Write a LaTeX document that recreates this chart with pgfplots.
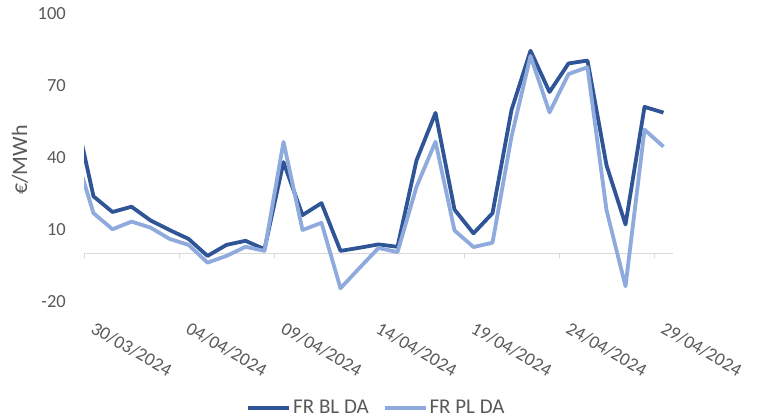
\documentclass[border=0pt]{standalone}
\usepackage{pgfplots}
\pgfplotsset{compat=1.18}
\usepackage{pgfplotstable}
\usepackage{fontspec}
\setmainfont{Carlito}
\definecolor{darkblue}{HTML}{2F5597}
\definecolor{lightblue}{HTML}{8FAADC}
\definecolor{txtgray}{HTML}{595959}
\definecolor{axgray}{HTML}{D9D9D9}

% x = days since 30/03/2024, points placed mid-day (+0.5)
\pgfplotstableread{
x     bl     pl
-0.5  60     43
0.5   24     17
1.5   17.5   10.3
2.5   19.7   13.5
3.5   14     11
4.5   10     6.3
5.5   6.3    3.8
6.5   -0.8   -3.6
7.5   3.8    -0.8
8.5   5.5    3
9.5   2      1.3
10.5  38.3   46.7
11.5  16.2   10
12.5  21.2   13
13.5  1.3    -14.3
14.5  2.6    -5.8
15.5  4      2.5
16.5  3      0.8
17.5  39     28
18.5  58.8   46.8
19.5  18.5   9.8
20.5  8.6    2.9
21.5  17     4.7
22.5  60     48.9
23.5  84.7   82.5
24.5  67.5   59
25.5  79.4   75
26.5  80.6   77.8
27.5  37     18.3
28.5  12.3   -13.5
29.5  61.3   51.8
30.5  58.9   44.7
}\datatable

\begin{document}
\begin{tikzpicture}
\useasboundingbox (0bp,0bp) rectangle (757bp,420bp);
\begin{axis}[
  at={(84bp,118bp)}, anchor=south west,
  width=589bp, height=288bp, scale only axis,
  xmin=0, xmax=31, ymin=-20, ymax=100,
  axis line style={draw=none},
  major tick length=0pt,
  xtick={0,5,...,30},
  xticklabels={30/03/2024,04/04/2024,09/04/2024,14/04/2024,19/04/2024,24/04/2024,29/04/2024},
  ytick={-20,10,40,70,100},
  yticklabels={-20,10,40,70,100},
  tick label style={font=\fontsize{18.5bp}{21bp}\selectfont, text=txtgray},
  xticklabel style={rotate=-30, anchor=north west, inner sep=0pt, xshift=20bp, yshift=-10bp},
  yticklabel style={anchor=east, inner sep=0pt, xshift=-18bp},
  legend style={at={(axis description cs:0.4966,-0.368)}, anchor=center,
    draw=none, fill=none, legend columns=2,
    font=\fontsize{21bp}{23bp}\selectfont, text=txtgray,
    /tikz/every even column/.append style={column sep=12bp},
    nodes={inner sep=2bp}},
  legend image code/.code={\draw[#1] (0bp,0bp) -- (41bp,0bp);},
  clip=true,
]
\draw[axgray, line width=1bp] (axis cs:0,0) -- (axis cs:31,0);
\pgfplotsinvokeforeach{0,5,10,15,20,25,30}{
  \draw[axgray, line width=1bp] (axis cs:#1,0) -- ++(0bp,-4.5bp);
}
\addplot[darkblue, line width=3.8bp, line join=round] table[x=x, y=bl] {\datatable};
\addlegendentry{FR BL DA}
\addplot[lightblue, line width=3.8bp, line join=round] table[x=x, y=pl] {\datatable};
\addlegendentry{FR PL DA}
\end{axis}
\node[rotate=90, font=\fontsize{22bp}{24bp}\selectfont, text=txtgray] at (20bp,260bp) {€/MWh};
\end{tikzpicture}
\end{document}
